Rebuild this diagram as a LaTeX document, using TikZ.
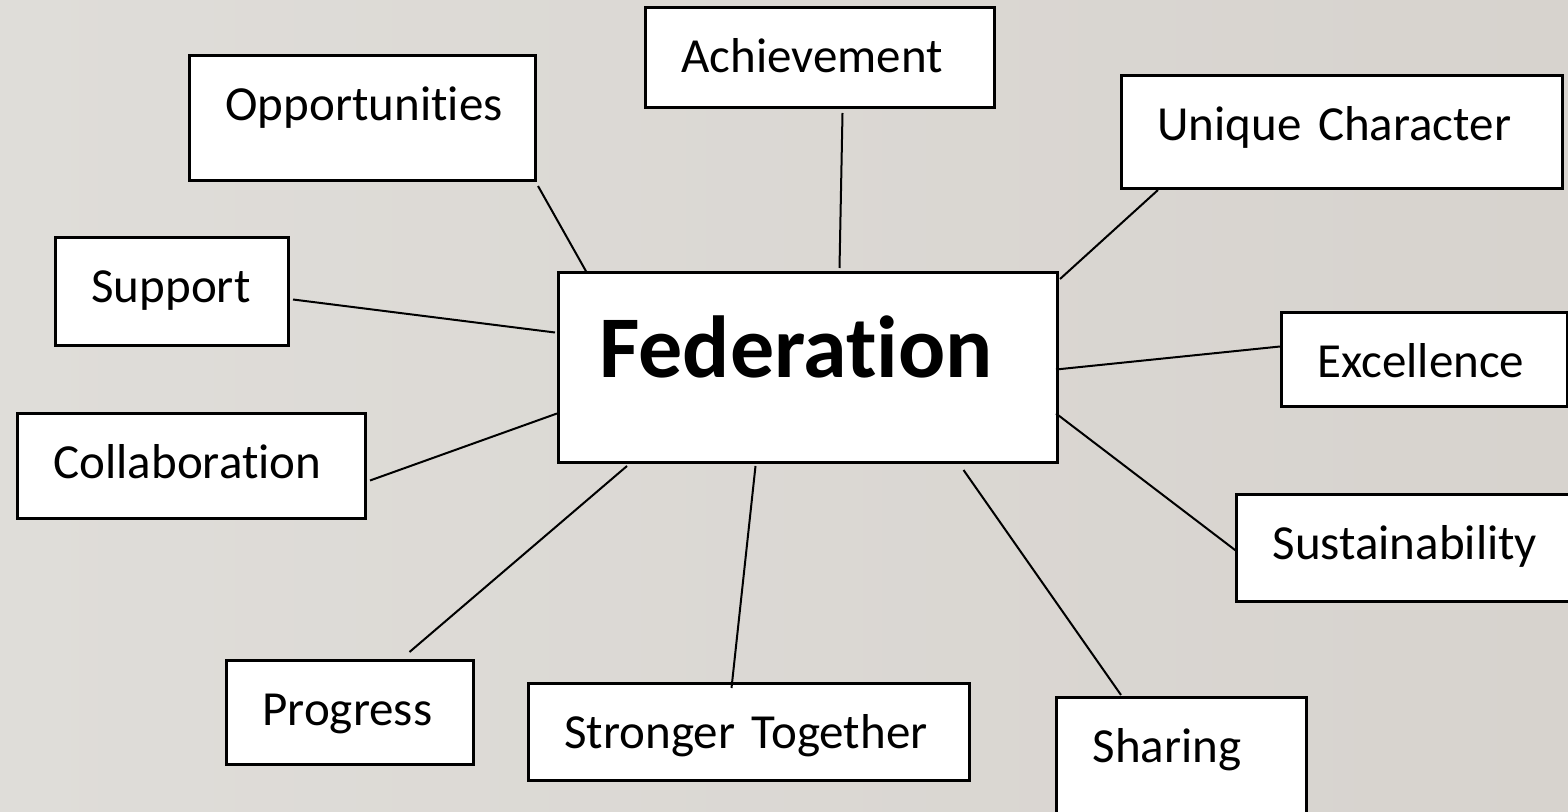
\documentclass[tikz,border=0pt]{standalone}
\usepackage{fontspec}
\setmainfont[Ligatures={NoCommon}]{Carlito}
\usepackage{tikz}
\usetikzlibrary{positioning,calc}

\definecolor{bgleft}{RGB}{223,221,217}
\definecolor{bgmid}{RGB}{232,231,227}
\definecolor{bgright}{RGB}{215,211,206}

\begin{document}
\begin{tikzpicture}[x=0.5pt,y=-0.5pt,
    topic/.style n args={2}{draw=black,line width=1.5pt,fill=white,anchor=north west,
        inner xsep=18pt,inner ysep=0pt,align=left,text width=#1,
        text height=32.5pt,text depth=#2,font=\fontsize{24.5}{29}\selectfont},
    hub/.style={draw=black,line width=1.5pt,fill=white,anchor=north west,
        inner xsep=20.5pt,inner ysep=0pt,align=left,text width=208.5pt,
        text height=52.5pt,text depth=42.5pt,font=\fontsize{44}{52}\selectfont\bfseries},
    link/.style={line width=1pt}]
    % Background
    \useasboundingbox (0,0) rectangle (1568,812);
    \clip (0,0) rectangle (1568,812);
    \shade[left color=bgleft,middle color=bgmid,right color=bgright] (0,0) rectangle (1568,812);

    % Centre box
    \node[hub] (fed) at (557,271) {Federation};

    % Surrounding boxes
    \node[topic={137pt}{30pt}] (opp) at (188,54) {Opportunities};
    \node[topic={138.5pt}{17.5pt}] (ach) at (644,6) {Achievement};
    \node[topic={184.5pt}{24pt}] (uniq) at (1120,74) {Unique Character};
    \node[topic={80.5pt}{21.5pt}] (sup) at (54,236) {Support};
    \node[topic={107pt}{14.5pt}] (exc) at (1280,311) {Excellence};
    \node[topic={138pt}{20pt}] (col) at (16,412) {Collaboration};
    \node[topic={134pt}{21pt}] (sus) at (1235,493) {Sustainability};
    \node[topic={87.5pt}{19.5pt}] (pro) at (225,659) {Progress};
    \node[topic={184.5pt}{16pt}] (str) at (527,682) {Stronger Together};
    \node[topic={89pt}{32.5pt}] (sha) at (1055,696) {Sharing};

    % Connectors
    \draw[link] ($(opp.south east)+(1,4)$) -- ($(fed.north west)+(30,2)$);
    \draw[link] ($(ach.south)+(22.5,4)$) -- ($(fed.north)+(31.5,-3)$);
    \draw[link] ($(uniq.south west)+(38,0)$) -- ($(fed.north east)+(1,8)$);
    \draw[link] ($(sup.east)+(3,8)$) -- ($(fed.west)+(-2,-35)$);
    \draw[link] ($(fed.east)+(-3,2)$) -- ($(exc.west)+(0,-13)$);
    \draw[link] ($(col.east)+(3,14.5)$) -- ($(fed.west)+(0,46)$);
    \draw[link] ($(fed.east)+(-3,46)$) -- ($(sus.west)+(2,3.5)$);
    \draw[link] ($(fed.south west)+(70,2)$) -- ($(pro.north)+(59.5,-7)$);
    \draw[link] ($(fed.south)+(-52.5,2)$) -- ($(str.north)+(-17.5,6)$);
    \draw[link] ($(fed.south)+(155.5,6)$) -- ($(sha.north west)+(66,-1)$);
\end{tikzpicture}
\end{document}
